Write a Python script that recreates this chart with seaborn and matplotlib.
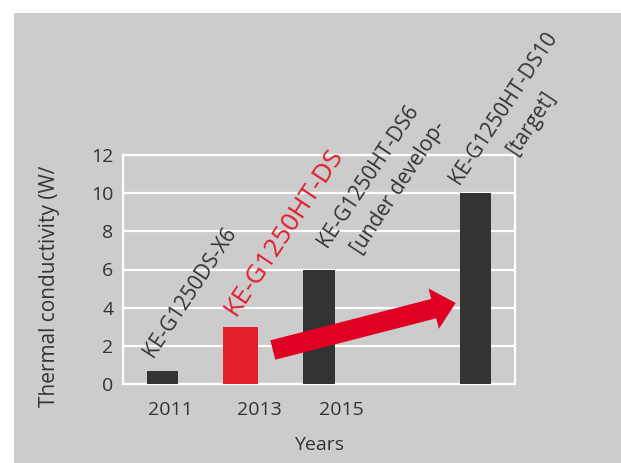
import matplotlib
matplotlib.use("Agg")
import matplotlib.pyplot as plt
import seaborn as sns
import pandas as pd
from matplotlib.patches import Rectangle

# ---- data ----
categories = ["2011", "2013", "2015", "gap", "target"]
bar_slots = ["2011", "2013", "2015", "target"]
conductivity = [0.7, 3.0, 6.0, 10.0]
highlight = [False, True, False, False]
year_ticks = ["2011", "2013", "2015"]
y_ticks = [0, 2, 4, 6, 8, 10, 12]
product_names = ["KE-G1250DS-X6", "KE-G1250HT-DS", "KE-G1250HT-DS6", "KE-G1250HT-DS10"]
product_notes = ["", "", "[under develop-", "[target]"]

# ---- style ----
GRAY = "#cccccc"
DARK = "#333333"
RED = "#e31e2d"
ARROW_RED = "#e00022"
TEXT = "#333333"

sns.set_theme(style="white")
plt.rcParams["font.family"] = ["Open Sans", "DejaVu Sans"]

fig = plt.figure(figsize=(6.21, 4.63), dpi=100, facecolor="white")
fig.patches.append(Rectangle((14 / 621, 0), 1, 450 / 463, transform=fig.transFigure,
                             facecolor=GRAY, edgecolor="none", zorder=-10))
ax = fig.add_axes([123 / 621, 79 / 463, 392 / 621, 229 / 463])
ax.set_facecolor(GRAY)

df = pd.DataFrame({"slot": bar_slots, "value": conductivity, "hl": highlight})
sns.barplot(data=df[~df["hl"]], x="slot", y="value", order=categories, color=DARK,
            width=0.4, saturation=1, linewidth=0, errorbar=None, ax=ax, zorder=3)
sns.barplot(data=df[df["hl"]], x="slot", y="value", order=categories, color=RED,
            width=0.45, saturation=1, linewidth=0, errorbar=None, ax=ax, zorder=3)

ax.set_xlim(-0.5, 4.5)
ax.set_ylim(0, 12)
ax.set_axisbelow(True)
ax.yaxis.grid(True, color="white", linewidth=1.6)
ax.xaxis.grid(False)
for s in ax.spines.values():
    s.set_color("white")
    s.set_linewidth(1.6)
    s.set_visible(True)

ax.set_yticks(y_ticks)
ax.set_yticklabels([str(v) for v in y_ticks])
tick_offsets = [0.11, 0.24, 0.29]
ax.set_xticks([i + o for i, o in enumerate(tick_offsets)])
ax.set_xticklabels(year_ticks)
ax.tick_params(axis="y", length=0, pad=7, labelsize=14, labelcolor=TEXT)
ax.tick_params(axis="x", length=0, pad=12, labelsize=14, labelcolor=TEXT)

ax.set_ylabel("Thermal conductivity (W/", fontsize=15, color=TEXT)
ax.yaxis.set_label_coords(-0.188, 0.428)
ax.yaxis.label.set_va("center")
ax.set_xlabel("Years", fontsize=14, color=TEXT)
ax.xaxis.set_label_coords(0.5, -0.266)
ax.xaxis.label.set_va("center")

# ---- rotated product labels ----
ANG = 56.5
name_pos = [(-0.117, 1.36), (0.931, 3.53), (2.103, 7.11), (3.785, 10.43)]
name_size = [15, 19, 15, 15]
name_color = [TEXT, RED, TEXT, TEXT]
for name, (x, y), fs, c in zip(product_names, name_pos, name_size, name_color):
    ax.text(x, y, name, rotation=ANG, rotation_mode="anchor", ha="left", va="baseline",
            fontsize=fs, color=c, clip_on=False, zorder=6)
note_pos = [None, None, (2.53, 6.75), (4.51, 11.94)]
for note, p in zip(product_notes, note_pos):
    if note:
        ax.text(p[0], p[1], note, rotation=ANG, rotation_mode="anchor", ha="left",
                va="baseline", fontsize=15, color=TEXT, clip_on=False, zorder=6)

# ---- arrow ----
ax.annotate("", xy=(3.743, 4.245), xytext=(1.411, 1.78),
            arrowprops=dict(arrowstyle="simple,head_length=1.63,head_width=3.0,tail_width=1.44",
                            color=ARROW_RED, shrinkA=0, shrinkB=0, linewidth=0,
                            mutation_scale=10),
            annotation_clip=False, zorder=5)

fig.savefig("out.png", dpi=100, facecolor="white")
